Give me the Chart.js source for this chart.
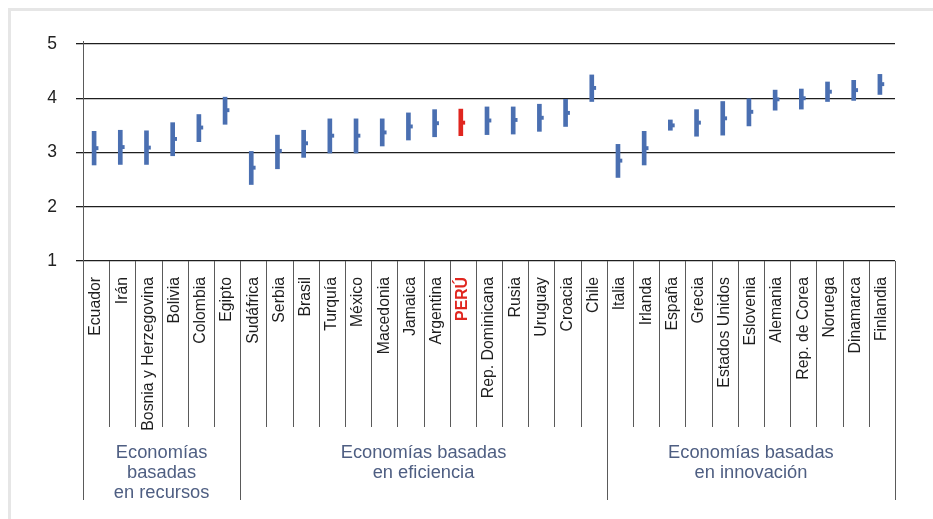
<!DOCTYPE html>
<html>
<head>
<meta charset="utf-8">
<script src="https://cdn.jsdelivr.net/npm/chart.js@4/dist/chart.umd.min.js"></script>
<style>
  body { margin:0; background:#fff; }
  canvas { display:block; }
</style>
</head>
<body>
<canvas id="c" width="933" height="519"></canvas>
<script>

// paises, ordenados como en el grafico
const countries = [
  'Ecuador','Irán','Bosnia y Herzegovina','Bolivia','Colombia','Egipto',
  'Sudáfrica','Serbia','Brasil','Turquía','México','Macedonia','Jamaica','Argentina','PERÚ',
  'Rep. Dominicana','Rusia','Uruguay','Croacia','Chile',
  'Italia','Irlanda','España','Grecia','Estados Unidos','Eslovenia','Alemania','Rep. de Corea',
  'Noruega','Dinamarca','Finlandia'
]

const lowValues  = [2.77,2.78,2.78,2.94,3.20,3.52, 2.41,2.70,2.91,2.99,2.99,3.12,3.23,3.29,3.31,
                    3.33,3.34,3.39,3.48,3.94, 2.54,2.77,3.41,3.30,3.32,3.49,3.78,3.80,3.94,3.96,4.07]
const highValues = [3.39,3.41,3.40,3.55,3.70,4.02, 3.02,3.32,3.41,3.62,3.62,3.62,3.73,3.79,3.80,
                    3.84,3.84,3.89,3.98,4.43, 3.15,3.39,3.60,3.79,3.94,3.99,4.15,4.17,4.30,4.33,4.44]
const meanValues = [3.08,3.10,3.09,3.25,3.46,3.78, 2.72,3.03,3.17,3.31,3.31,3.37,3.48,3.54,3.55,
                    3.59,3.60,3.64,3.73,4.19, 2.85,3.08,3.50,3.55,3.63,3.75,3.98,4.00,4.12,4.15,4.26]

const groupSizes = [6, 14, 11]
const groupNames = [
  ['Economías','basadas','en recursos'],
  ['Economías basadas','en eficiencia'],
  ['Economías basadas','en innovación']
]

const yTicks = [1, 2, 3, 4, 5]

const highlight = 'PERÚ'
const blue = '#4a6fb1'
const red  = '#e0261f'

const barColors = countries.map(c => c === highlight ? red : blue)


// separadores de columnas, lineas de grupo y textos de grupo
const groupsPlugin = {
  id: 'groups',
  beforeDraw(chart){
    const ctx = chart.ctx
    ctx.save()
    ctx.fillStyle = '#e6e6e6'   //marco gris claro
    ctx.fillRect(8, 8, chart.width, 3)
    ctx.fillRect(8, 8, 3, chart.height)
    ctx.restore()
  },
  afterDraw(chart){
    const ctx = chart.ctx
    const xs = chart.scales.x
    const area = chart.chartArea
    const step = xs.getPixelForValue(1) - xs.getPixelForValue(0)
    const edge = (i) => xs.getPixelForValue(0) + (i - 0.5) * step

    const longs = [0]
    groupSizes.reduce((acc, n) => { longs.push(acc + n); return acc + n }, 0)

    ctx.save()
    ctx.strokeStyle = '#5a5a5a'
    ctx.lineWidth = 1
    for(let i = 0; i <= countries.length; i++){
      const x = Math.round(edge(i)) + 0.5
      const isLong = longs.includes(i)
      ctx.beginPath()
      ctx.moveTo(x, i === 0 ? area.top - 3 : area.bottom)
      ctx.lineTo(x, isLong ? area.bottom + 239 : area.bottom + 166)
      ctx.stroke()
    }

    ctx.fillStyle = '#4e5e82'
    ctx.font = '18.3px "Liberation Sans", Arial, sans-serif'
    ctx.textAlign = 'center'
    ctx.textBaseline = 'middle'
    groupNames.forEach((lines, g) => {
      const cx = (edge(longs[g]) + edge(longs[g + 1])) / 2
      lines.forEach((t, k) => ctx.fillText(t, cx, area.bottom + 192 + k * 20))
    })
    ctx.restore()
  }
}


const setup = {
  type: 'bar',
  data: {
    labels: countries,
    datasets: [
      {
        label: 'rango',
        data: countries.map((c, i) => [lowValues[i], highValues[i]]),
        backgroundColor: barColors,
        borderWidth: 0,
        barThickness: 4,
      },
      {
        label: 'promedio',
        data: countries.map((c, i) => [meanValues[i] - 0.03, meanValues[i] + 0.03]),
        backgroundColor: barColors,
        borderWidth: 0,
        barThickness: 2,
      }
    ]
  },
  options: {
    responsive: false,
    animation: false,
    layout: { padding: { left: 0, right: 38, top: 44, bottom: 0 } },
    plugins: {
      legend: { display: false },
      tooltip: { enabled: false },
    },
    scales: {
      x: {
        grid: { display: false },
        border: { display: false },
        afterFit: (s) => { s.height = 258 },
        ticks: {
          autoSkip: false,
          maxRotation: 90,
          minRotation: 90,
          padding: 8,
          color: (c) => countries[c.index] === highlight ? red : '#1e1e1e',
          font: (c) => ({
            family: '"Liberation Sans", Arial, sans-serif',
            size: 15.8,
            weight: countries[c.index] === highlight ? 'bold' : 'normal'
          })
        }
      },
      y: {
        min: yTicks[0],
        max: yTicks[yTicks.length - 1],
        afterFit: (s) => { s.width = 83 },
        afterBuildTicks: (s) => { s.ticks = yTicks.map(v => ({ value: v })) },
        border: { display: false },
        grid: { color: '#1e1e1e', lineWidth: 1.3, tickLength: 7 },
        ticks: {
          padding: 19,
          color: '#222',
          font: { family: '"Liberation Sans", Arial, sans-serif', size: 17.5 }
        }
      }
    }
  },
  plugins: [groupsPlugin]
}

new Chart(document.getElementById('c'), setup)
</script>
</body>
</html>
